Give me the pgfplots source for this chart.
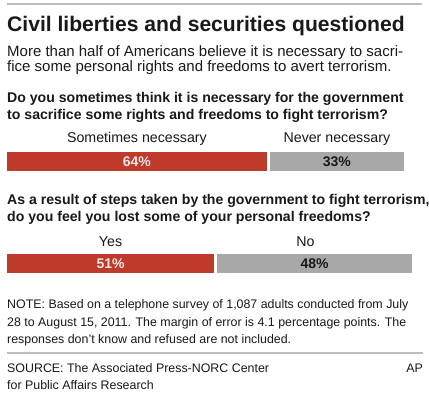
\documentclass[border=0pt]{standalone}
\usepackage{pgfplots}
\pgfplotsset{compat=1.18}
\usepackage{fontspec}
\setmainfont{Liberation Sans}
\definecolor{apred}{RGB}{190,58,43}
\definecolor{apgray}{RGB}{168,168,168}
\definecolor{rulegray}{RGB}{190,190,190}
\definecolor{txt}{RGB}{25,25,25}
\newcommand{\fs}[1]{\fontsize{#1pt}{#1pt}\selectfont}
\begin{document}
\begin{tikzpicture}[x=1pt,y=1pt]
\path[fill=white,use as bounding box] (0,0) rectangle (429,393);
% top rule
\draw[rulegray,line width=2pt] (7,389) -- (422,389);
% title
\node[anchor=base west,inner sep=0,text=txt] at (7,393-32) {\fs{21.1}\bfseries Civil liberties and securities questioned};
\node[anchor=base west,inner sep=0,text=txt] at (7,393-56.7) {\fs{15}More than half of Americans believe it is necessary to sacri-};
\node[anchor=base west,inner sep=0,text=txt] at (7,393-71.3) {\fs{15}fice some personal rights and freedoms to avert terrorism.};
% question 1
\node[anchor=base west,inner sep=0,text=txt] at (7,393-103) {\fs{14.1}\bfseries Do you sometimes think it is necessary for the government};
\node[anchor=base west,inner sep=0,text=txt] at (7,393-120) {\fs{14.1}\bfseries to sacrifice some rights and freedoms to fight terrorism?};
\begin{axis}[
  at={(7pt,222pt)}, anchor=south west,
  scale only axis, width=406pt, height=19pt,
  xmin=0, xmax=100, ymin=0.5, ymax=1.5,
  hide axis, clip=false, xbar stacked, bar width=19pt,
  ]
\addplot[fill=apred,draw=none] coordinates {(64,1)};
\addplot[fill=none,draw=none] coordinates {(0.75,1)};
\addplot[fill=apgray,draw=none] coordinates {(33,1)};
\coordinate (a1) at (axis cs:32,1);
\coordinate (b1) at (axis cs:81.25,1);
\node[anchor=base,inner sep=0,text=txt,font=\fs{14.2}] at (axis cs:32,1.5) [yshift=9pt] {Sometimes necessary};
\node[anchor=base,inner sep=0,text=txt,font=\fs{14.2}] at (axis cs:81.25,1.5) [yshift=9pt] {Never necessary};
\end{axis}
\node[text=white!88!apred,font=\fs{14}\bfseries] at (a1) {64\%};
\node[text=txt,font=\fs{14}\bfseries] at (b1) {33\%};
% question 2
\node[anchor=base west,inner sep=0,text=txt] at (7,393-205) {\fs{14.1}\bfseries As a result of steps taken by the government to fight terrorism,};
\node[anchor=base west,inner sep=0,text=txt] at (7,393-222) {\fs{14.1}\bfseries do you feel you lost some of your personal freedoms?};
\begin{axis}[
  at={(7pt,120pt)}, anchor=south west,
  scale only axis, width=406pt, height=19pt,
  xmin=0, xmax=100, ymin=0.5, ymax=1.5,
  hide axis, clip=false, xbar stacked, bar width=19pt,
  ]
\addplot[fill=apred,draw=none] coordinates {(51,1)};
\addplot[fill=none,draw=none] coordinates {(0.75,1)};
\addplot[fill=apgray,draw=none] coordinates {(48,1)};
\coordinate (a2) at (axis cs:25.5,1);
\coordinate (b2) at (axis cs:75.75,1);
\node[anchor=base,inner sep=0,text=txt,font=\fs{14.2}] at (axis cs:25.5,1.5) [yshift=7pt] {Yes};
\node[anchor=base,inner sep=0,text=txt,font=\fs{14.2}] at (axis cs:73.5,1.5) [yshift=7pt] {No};
\end{axis}
\node[text=white!88!apred,font=\fs{14}\bfseries] at (a2) {51\%};
\node[text=txt,font=\fs{14}\bfseries] at (b2) {48\%};
% note
\node[anchor=base west,inner sep=0,text=txt] at (7,393-309) {\fs{12.4}NOTE: Based on a telephone survey of 1,087 adults conducted from July};
\node[anchor=base west,inner sep=0,text=txt] at (7,393-326.5) {\fs{12.4}28 to August 15, 2011. The margin of error is 4.1 percentage points. The};
\node[anchor=base west,inner sep=0,text=txt] at (7,393-344) {\fs{12.4}responses don't know and refused are not included.};
\draw[rulegray,line width=1.2pt] (7,393-353) -- (423,393-353);
\node[anchor=base west,inner sep=0,text=txt] at (7,393-373) {\fs{12.4}SOURCE: The Associated Press-NORC Center};
\node[anchor=base west,inner sep=0,text=txt] at (7,393-390) {\fs{12.4}for Public Affairs Research};
\node[anchor=base east,inner sep=0,text=txt] at (423,393-373) {\fs{12.4}AP};
\end{tikzpicture}
\end{document}
